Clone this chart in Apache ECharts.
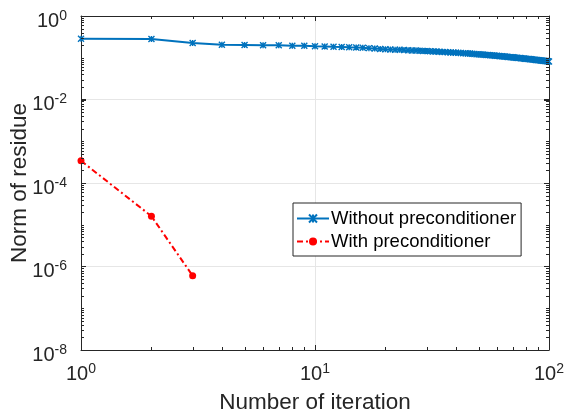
<!DOCTYPE html>
<html>
<head>
<meta charset="utf-8">
<script src="https://cdn.jsdelivr.net/npm/echarts@6/dist/echarts.min.js"></script>
<style>html,body{margin:0;padding:0;background:#fff}#c{width:565px;height:420px}</style>
</head>
<body>
<div id="c"></div>
<script>
// ---- data ----
var iterNoPrec = [];
for (var i = 1; i <= 100; i++) iterNoPrec.push(i);
var residNoPrec = [
  0.287, 0.281, 0.226, 0.205, 0.202, 0.199, 0.198, 0.195, 0.193, 0.188,
  0.186, 0.183, 0.181, 0.178, 0.176, 0.173, 0.170, 0.166, 0.163, 0.160,
  0.158, 0.156, 0.155, 0.153, 0.152, 0.150, 0.149, 0.147, 0.146, 0.145,
  0.143, 0.142, 0.141, 0.139, 0.138, 0.137, 0.135, 0.134, 0.133, 0.132,
  0.131, 0.130, 0.129, 0.128, 0.127, 0.126, 0.124, 0.123, 0.122, 0.121,
  0.120, 0.119, 0.118, 0.117, 0.116, 0.115, 0.114, 0.113, 0.112, 0.111,
  0.110, 0.109, 0.1085, 0.1075, 0.1065, 0.1055, 0.1045, 0.1035, 0.1030, 0.1022,
  0.1014, 0.1006, 0.0998, 0.0990, 0.0982, 0.0974, 0.0966, 0.0958, 0.0951, 0.0944,
  0.0937, 0.0930, 0.0923, 0.0916, 0.0909, 0.0902, 0.0895, 0.0888, 0.0881, 0.0874,
  0.0868, 0.0862, 0.0856, 0.0850, 0.0844, 0.0838, 0.0832, 0.0827, 0.0822, 0.0817
];
var iterPrec = [1, 2, 3];
var residPrec = [3.4e-4, 1.6e-5, 6.0e-7];
var seriesNames = ['Without preconditioner', 'With preconditioner'];
var xTicks = [1, 10, 100];
var yTicks = [1e-8, 1e-6, 1e-4, 1e-2, 1];

// ---- helpers ----
var AX = '#262626';
var FONT = 'Liberation Sans, Arial, Helvetica, sans-serif';
function pair(xs, ys) { return xs.map(function (x, k) { return [x, ys[k]]; }); }
function expLabel(v) {
  var e = Math.round(Math.log10(v));
  return '{b|10}{e|' + e + '}';
}
var rich = {
  b: { fontSize: 20, fontFamily: FONT, color: AX },
  e: { fontSize: 14, fontFamily: FONT, color: AX, padding: [0, 0, 10, 0] }
};
// minor tick positions (decoration)
var xMinor = [];
[1, 10].forEach(function (d) { for (var k = 2; k <= 9; k++) xMinor.push(d * k); });
var yMinor = [];
for (var e = -8; e < 0; e++) {
  for (var k = 1; k <= 9; k++) {
    if (k === 1 && e % 2 === 0) continue;
    yMinor.push(k * Math.pow(10, e));
  }
}
var tickData = xMinor.map(function (v) { return [v, 1e-8, 'x']; })
  .concat(yMinor.map(function (v) { return [1, v, 'y']; }));
var majorData = [[10, 1e-8, 'X']].concat([1e-6, 1e-4, 1e-2].map(function (v) { return [1, v, 'Y']; }));

function tickRender(params, api) {
  var kind = api.value(2);
  var cs = params.coordSys;
  var len = (kind === 'X' || kind === 'Y') ? 5 : 3;
  var style = { stroke: AX, lineWidth: 1 };
  if (kind === 'x' || kind === 'X') {
    var p = api.coord([api.value(0), 1e-8]);
    var x = Math.round(p[0]) + 0.5;
    return { type: 'group', children: [
      { type: 'line', shape: { x1: x, y1: cs.y + cs.height, x2: x, y2: cs.y + cs.height - len }, style: style },
      { type: 'line', shape: { x1: x, y1: cs.y, x2: x, y2: cs.y + len }, style: style }
    ]};
  } else {
    var q = api.coord([1, api.value(1)]);
    var y = Math.round(q[1]) + 0.5;
    return { type: 'group', children: [
      { type: 'line', shape: { x1: cs.x, y1: y, x2: cs.x + len, y2: y }, style: style },
      { type: 'line', shape: { x1: cs.x + cs.width, y1: y, x2: cs.x + cs.width - len, y2: y }, style: style }
    ]};
  }
}

var crossSym = 'path://M0,0L10,10M10,0L0,10M5,0L5,10';

var chart = echarts.init(document.getElementById('c'), null, { renderer: 'canvas' });
chart.setOption({
  animation: false,
  backgroundColor: '#fff',
  textStyle: { fontFamily: FONT },
  grid: { left: 81, right: 16, top: 16, bottom: 70, containLabel: false, outerBoundsMode: 'none' },
  legend: {
    data: seriesNames,
    orient: 'vertical',
    left: 293, top: 203,
    itemWidth: 32, itemHeight: 10, itemGap: 4,
    padding: [6, 5, 5, 3],
    borderColor: AX, borderWidth: 1, backgroundColor: '#fff',
    textStyle: { fontSize: 18.5, color: '#000', fontFamily: FONT, padding: [0, 0, 0, -3] }
  },
  xAxis: [{
    type: 'log', logBase: 10, min: 1, max: 100,
    name: 'Number of iteration', nameLocation: 'middle', nameGap: 41, nameMoveOverlap: false,
    nameTextStyle: { fontSize: 22.5, color: AX, fontFamily: FONT },
    axisLine: { show: true, onZero: false, lineStyle: { color: AX, width: 1 } },
    axisTick: { show: true, inside: true, length: 5, lineStyle: { color: AX } },
    axisLabel: { formatter: expLabel, rich: rich, margin: 12 },
    splitLine: { show: true, lineStyle: { color: '#E6E6E6', width: 1 } },
    minorTick: { show: false }
  }, {
    type: 'log', logBase: 10, min: 1, max: 100, position: 'top',
    axisLine: { show: true, onZero: false, lineStyle: { color: AX, width: 1 } },
    axisTick: { show: true, inside: true, length: 5, lineStyle: { color: AX } },
    axisLabel: { show: false }, splitLine: { show: false }
  }],
  yAxis: [{
    type: 'log', logBase: 10, min: 1e-8, max: 1, interval: 2,
    name: 'Norm of residue', nameLocation: 'middle', nameGap: 50, nameMoveOverlap: false,
    nameTextStyle: { fontSize: 22.5, color: AX, fontFamily: FONT },
    axisLine: { show: true, onZero: false, lineStyle: { color: AX, width: 1 } },
    axisTick: { show: true, inside: true, length: 5, lineStyle: { color: AX } },
    axisLabel: { formatter: expLabel, rich: rich, margin: 14, padding: [10, 0, 0, 0] },
    splitLine: { show: true, lineStyle: { color: '#E6E6E6', width: 1 } }
  }, {
    type: 'log', logBase: 10, min: 1e-8, max: 1, interval: 2, position: 'right',
    axisLine: { show: true, onZero: false, lineStyle: { color: AX, width: 1 } },
    axisTick: { show: true, inside: true, length: 5, lineStyle: { color: AX } },
    axisLabel: { show: false }, splitLine: { show: false }
  }],
  series: [{
    name: seriesNames[0], type: 'line',
    data: pair(iterNoPrec, residNoPrec),
    symbol: crossSym, symbolSize: 6,
    lineStyle: { color: '#0072BD', width: 2 },
    itemStyle: { color: '#0072BD', borderColor: '#0072BD', borderWidth: 1.4 },
    z: 3
  }, {
    name: seriesNames[1], type: 'line',
    data: pair(iterPrec, residPrec),
    symbol: 'circle', symbolSize: 7,
    lineStyle: { color: '#FF0000', width: 2, type: [6, 3, 2, 3] },
    itemStyle: { color: '#FF0000' },
    z: 3
  }, {
    type: 'custom', silent: true, data: tickData.concat(majorData),
    renderItem: tickRender, z: 5, clip: false
  }]
});
</script>
</body>
</html>
